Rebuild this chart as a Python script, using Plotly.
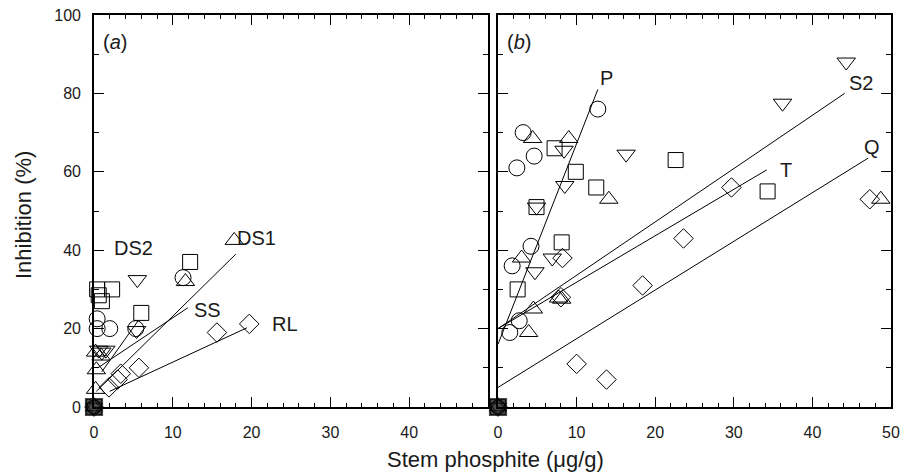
import plotly.graph_objects as go

# ---------------- Panel (a) data ----------------
a_sq_x = [0.4, 0.6, 1.0, 2.3, 6.0, 12.2]
a_sq_y = [30, 28.5, 27, 30, 24, 37]
a_ci_x = [0.4, 0.4, 2.0, 5.3, 11.3]
a_ci_y = [22.5, 20, 20, 20, 33]
a_td_x = [0.6, 1.0, 1.5, 5.5, 5.4]
a_td_y = [14.5, 14, 14.5, 32.5, 19.5]
a_tu_x = [0.2, 0.3, 0.2, 0.9, 11.6, 17.8]
a_tu_y = [14, 9.5, 4.5, 13, 32, 42.5]
a_di_x = [1.9, 3.0, 3.4, 5.7, 15.6, 19.7]
a_di_y = [5, 7, 8.5, 10, 19, 21.2]

a_fit_names = ["DS1", "SS", "RL", "DS2"]
a_fit_x = [[0.3, 18.0], [0.5, 11.9], [2.0, 19.4], [1.0, 5.6]]
a_fit_y = [[4, 39], [10, 25.3], [4, 20.2], [9, 22]]
a_lab_text = ["DS2", "DS1", "SS", "RL"]
a_lab_x = [5.0, 20.6, 14.4, 24.2]
a_lab_y = [40.5, 43, 24.7, 21.2]

# ---------------- Panel (b) data ----------------
b_ci_x = [12.7, 3.2, 4.6, 2.4, 4.2, 1.8, 2.7, 1.5]
b_ci_y = [76, 70, 64, 61, 41, 36, 22, 19]
b_sq_x = [7.2, 9.9, 12.5, 4.9, 8.1, 2.5, 22.6, 34.3]
b_sq_y = [66, 60, 56, 51, 42, 30, 63, 55]
b_tu_x = [4.4, 9.0, 14.1, 3.0, 4.5, 7.7, 8.1, 3.9, 48.7]
b_tu_y = [68.5, 68.5, 53, 38, 25, 27.8, 27.5, 19, 53]
b_td_x = [8.4, 16.3, 8.5, 4.9, 4.7, 6.9, 44.3, 36.2]
b_td_y = [65.5, 64.5, 56.5, 51, 34.5, 38, 88, 77.5]
b_di_x = [8.2, 8.0, 18.4, 23.6, 10.0, 13.8, 29.7, 47.3]
b_di_y = [38, 28, 31, 43, 11, 7, 56, 53]

b_fit_names = ["P", "S2", "T", "Q"]
b_fit_x = [[0, 12.7], [0, 44.1], [0, 34.2], [0, 47.1]]
b_fit_y = [[16, 81], [20, 80], [20, 60.5], [5, 63.5]]
b_lab_text = ["P", "S2", "T", "Q"]
b_lab_x = [13.8, 46.2, 36.6, 47.6]
b_lab_y = [84, 82.7, 60.5, 66.3]

zero_x = [0, 0, 0, 0, 0, 0]
zero_y = [0, 0, 0, 0, 0, 0]
zero_sym = ["square", "circle-open", "triangle-up-open", "triangle-down-open", "diamond-open", "square-open"]

x_ticks = [0, 10, 20, 30, 40, 50]
x_text_a = ["0", "10", "20", "30", "40", ""]
x_text_b = ["0", "10", "20", "30", "40", "50"]
y_ticks = [0, 20, 40, 60, 80, 100]

FONT = "Liberation Sans, Arial, Helvetica, sans-serif"
LC = "black"
TXT = "#1a1a1a"

W, H = 900, 475
ml, mr, mt, mb = 94, 9, 15, 68
pw = W - ml - mr
dom_a = [0, 394 / pw]
dom_b = [(498 - ml) / pw, 1]

fig = go.Figure()

def add_markers(xs, ys, sym, size, xa, ya):
    fig.add_trace(go.Scatter(x=xs, y=ys, mode="markers", cliponaxis=False, xaxis=xa, yaxis=ya,
                             marker=dict(symbol=sym, size=size, color=LC,
                                         line=dict(color=LC, width=1)),
                             showlegend=False, hoverinfo="skip"))

def add_panel(xa, ya, sq, ci, tu, td, di, fx, fy):
    for xs, ys in zip(fx, fy):
        fig.add_trace(go.Scatter(x=xs, y=ys, mode="lines", xaxis=xa, yaxis=ya,
                                 line=dict(color=LC, width=1),
                                 showlegend=False, hoverinfo="skip"))
    add_markers(sq[0], sq[1], "square-open", 15, xa, ya)
    add_markers(ci[0], ci[1], "circle-open", 16, xa, ya)
    add_markers(tu[0], tu[1], "triangle-up-open", 16, xa, ya)
    add_markers(td[0], td[1], "triangle-down-open", 16, xa, ya)
    add_markers(di[0], di[1], "diamond-open", 15, xa, ya)
    fig.add_trace(go.Scatter(x=zero_x, y=zero_y, mode="markers", cliponaxis=False,
                             xaxis=xa, yaxis=ya,
                             marker=dict(symbol=zero_sym, size=[17, 14, 15, 15, 14, 15],
                                         color=LC, line=dict(color=LC, width=1.2)),
                             showlegend=False, hoverinfo="skip"))

add_panel("x", "y", (a_sq_x, a_sq_y), (a_ci_x, a_ci_y), (a_tu_x, a_tu_y), (a_td_x, a_td_y),
          (a_di_x, a_di_y), a_fit_x, a_fit_y)
add_panel("x2", "y2", (b_sq_x, b_sq_y), (b_ci_x, b_ci_y), (b_tu_x, b_tu_y), (b_td_x, b_td_y),
          (b_di_x, b_di_y), b_fit_x, b_fit_y)

# invisible traces so overlay (tick-only) axes are drawn
for xa, ya in [("x3", "y"), ("x4", "y2"), ("x", "y3"), ("x2", "y4")]:
    fig.add_trace(go.Scatter(x=[None], y=[None], xaxis=xa, yaxis=ya, mode="markers",
                             showlegend=False, hoverinfo="skip"))

tickfont = dict(family=FONT, size=16, color=TXT)
xbase = dict(range=[0, 50], showgrid=False, zeroline=False, automargin=False,
             ticks="inside", ticklen=10, tickwidth=1.3, tickcolor=LC, tickvals=x_ticks,
             minor=dict(dtick=2, ticks="inside", ticklen=4, tickwidth=1.1, tickcolor=LC))
ybase = dict(range=[0, 100], showgrid=False, zeroline=False, automargin=False,
             ticks="inside", ticklen=10, tickwidth=1.3, tickcolor=LC, tickvals=y_ticks,
             minor=dict(dtick=10, ticks="inside", ticklen=5, tickwidth=1.1, tickcolor=LC))
line = dict(showline=True, linecolor=LC, linewidth=1.6, mirror=True)

fig.update_layout(
    xaxis=dict(domain=dom_a, anchor="y", ticktext=x_text_a, tickfont=tickfont,
               ticklabelstandoff=10, **xbase, **line),
    xaxis2=dict(domain=dom_b, anchor="y2", ticktext=x_text_b, tickfont=tickfont,
                ticklabelstandoff=10, **xbase, **line),
    yaxis=dict(domain=[0, 1], anchor="x", tickfont=tickfont, ticklabelstandoff=8,
               **ybase, **line),
    yaxis2=dict(domain=[0, 1], anchor="x2", showticklabels=False, **ybase, **line),
    xaxis3=dict(overlaying="x", anchor="y", side="top", showticklabels=False, **xbase),
    xaxis4=dict(overlaying="x2", anchor="y2", side="top", showticklabels=False, **xbase),
    yaxis3=dict(overlaying="y", anchor="x", side="right", showticklabels=False, **ybase),
    yaxis4=dict(overlaying="y2", anchor="x2", side="right", showticklabels=False, **ybase),
)

ann = []
for t, x, y in zip(a_lab_text, a_lab_x, a_lab_y):
    ann.append(dict(x=x, y=y, xref="x", yref="y", text=t, showarrow=False,
                    font=dict(family=FONT, size=20, color=TXT)))
for t, x, y in zip(b_lab_text, b_lab_x, b_lab_y):
    ann.append(dict(x=x, y=y, xref="x2", yref="y2", text=t, showarrow=False,
                    font=dict(family=FONT, size=20, color=TXT)))
ann.append(dict(x=0.9, y=93, xref="x", yref="y", text="(<i>a</i>)", showarrow=False,
                xanchor="left", font=dict(family=FONT, size=20, color=TXT)))
ann.append(dict(x=0.9, y=93, xref="x2", yref="y2", text="(<i>b</i>)", showarrow=False,
                xanchor="left", font=dict(family=FONT, size=20, color=TXT)))
ann.append(dict(x=(495 - ml) / pw, y=(H - mb - 460) / (H - mt - mb), xref="paper", yref="paper",
                text="Stem phosphite (\u03bcg/g)", showarrow=False, yanchor="middle",
                font=dict(family=FONT, size=22, color=TXT)))
ann.append(dict(x=(23 - ml) / pw, y=(H - mb - 215) / (H - mt - mb), xref="paper", yref="paper",
                text="Inhibition (%)", showarrow=False, textangle=-90, xanchor="center",
                yanchor="middle", font=dict(family=FONT, size=22, color=TXT)))

fig.update_layout(width=W, height=H, margin=dict(l=ml, r=mr, t=mt, b=mb, autoexpand=False),
                  plot_bgcolor="white", paper_bgcolor="white", annotations=ann,
                  showlegend=False)

fig.write_html("out.html", config={"displayModeBar": False},
               post_script="document.body.style.margin='0px';document.body.style.overflow='hidden';")
